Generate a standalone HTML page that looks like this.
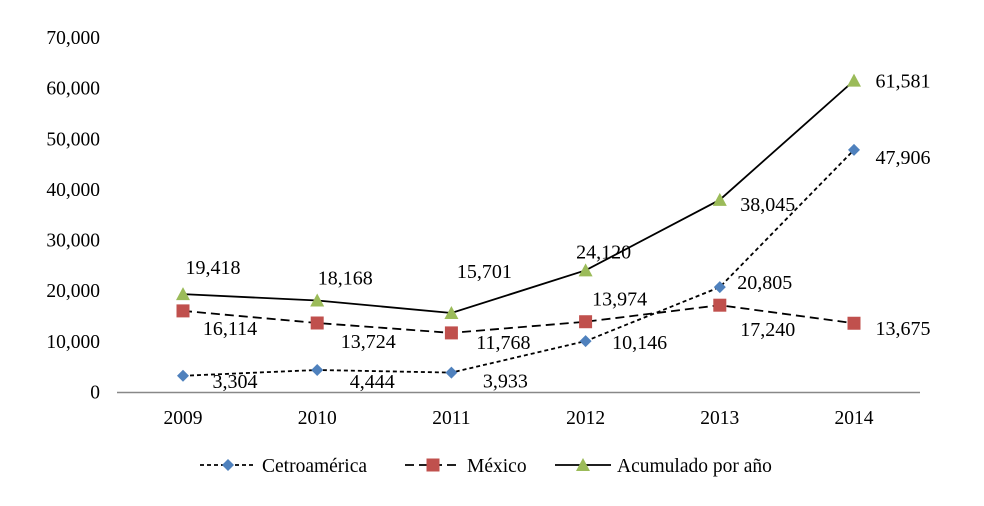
<!DOCTYPE html>
<html><head><meta charset="utf-8"><style>
body{margin:0;background:#fff}
svg text{font-family:"Liberation Serif",serif;fill:#000}
</style></head><body>
<svg id="c" width="984" height="501"></svg>
<script>
const years=["2009","2010","2011","2012","2013","2014"];
const cetro=[3304,4444,3933,10146,20805,47906];
const mexico=[16114,13724,11768,13974,17240,13675];
const acum=[19418,18168,15701,24120,38045,61581];
const yTicks=[0,10000,20000,30000,40000,50000,60000,70000];
const x0=183,dxs=134.2,y0=392.5,ppu=(392.5-38)/70000;
const X=i=>x0+i*dxs, Y=v=>y0-v*ppu;
const fmt=v=>v.toLocaleString('en-US');
const s=document.getElementById('c'),NS='http://www.w3.org/2000/svg';
function el(t,a,p){const e=document.createElementNS(NS,t);for(const k in a)e.setAttribute(k,a[k]);(p||s).appendChild(e);return e;}
yTicks.forEach(v=>{const t=el('text',{x:100,y:Y(v)+6,'text-anchor':'end','font-size':19.5});t.textContent=fmt(v);

});
const ax=el('line',{x1:117,x2:920,y1:y0,y2:y0,stroke:'#888','stroke-width':1.5});


years.forEach((y,i)=>{const t=el('text',{x:X(i),y:424,'text-anchor':'middle','font-size':19.5});t.textContent=y;

});
function marker(kind,x,y,g){
 if(kind==='d')return el('path',{d:`M${x} ${y-6}L${x+6} ${y}L${x} ${y+6}L${x-6} ${y}Z`,fill:'#4F81BD'},g);
 if(kind==='s')return el('rect',{x:x-6.5,y:y-6.5,width:13,height:13,fill:'#C0504D'},g);
 return el('path',{d:`M${x} ${y-7}L${x+7} ${y+6}L${x-7} ${y+6}Z`,fill:'#9BBB59'},g);
}
const series=[
 {name:'cetroamerica',data:cetro,dash:'4,3',m:'d',off:[[52,12],[55,18],[54,15],[54,8],[45,2],[49,14]]},
 {name:'mexico',data:mexico,dash:'9,5',m:'s',off:[[47,24],[51,25],[52,16],[34,-16],[48,31],[49,12]]},
 {name:'acumulado',data:acum,dash:'',m:'t',off:[[30,-20],[28,-16],[33,-35],[18,-12],[48,11],[49,7]]}
];
series.forEach(se=>{
 const g=el('g',{});
 
 
 const pts=se.data.map((v,i)=>X(i)+','+Y(v)).join(' ');
 el('polyline',{points:pts,fill:'none',stroke:'#000','stroke-width':1.8,'stroke-dasharray':se.dash},g);
 se.data.forEach((v,i)=>{
  const mk=marker(se.m,X(i),Y(v),g);
  
  
  const t=el('text',{x:X(i)+se.off[i][0],y:Y(v)+se.off[i][1],'text-anchor':'middle','font-size':20},g);
  t.textContent=fmt(v);
  
  
 });
});
const leg=[['Cetroamérica','4,3','d',200],['México','9,5','s',405],['Acumulado por año','','t',555]];
leg.forEach(l=>{
 const g=el('g',{});
 
 
 el('line',{x1:l[3],x2:l[3]+56,y1:465,y2:465,stroke:'#000','stroke-width':1.8,'stroke-dasharray':l[1]},g);
 marker(l[2],l[3]+28,465,g);
 const t=el('text',{x:l[3]+62,y:472,'font-size':19.5},g);t.textContent=l[0];
});
</script>
</body></html>
